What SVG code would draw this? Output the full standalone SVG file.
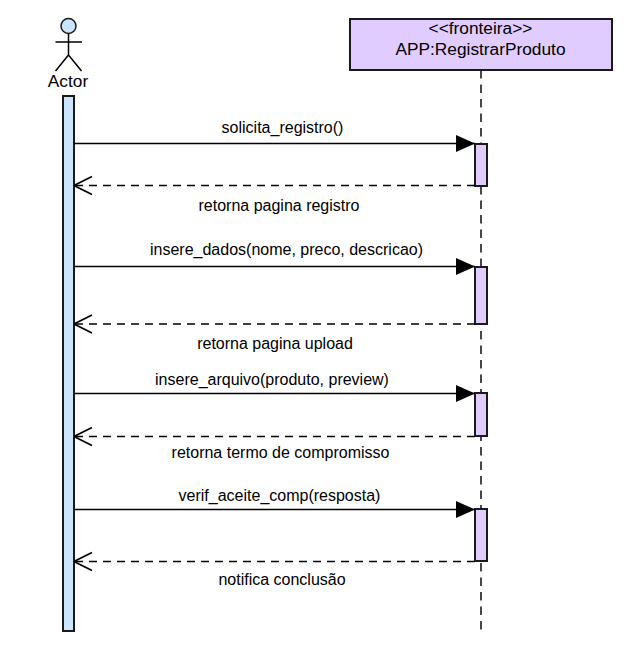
<svg xmlns="http://www.w3.org/2000/svg" width="638" height="672" viewBox="0 0 638 672">
<defs>
<marker id="solid" markerUnits="userSpaceOnUse" markerWidth="20" markerHeight="20" refX="19" refY="10" orient="auto"><path d="M0 1.500L19 10L0 18.500Z" fill="#000"/></marker>
<marker id="open" markerUnits="userSpaceOnUse" markerWidth="20" markerHeight="22" refX="19.500" refY="11" orient="auto"><path d="M1.500 2L19.500 11L1.500 20" fill="none" stroke="#000" stroke-width="1.600"/></marker>
</defs>
<style>
text{font-family:"Liberation Sans",Arial,sans-serif;font-size:16px;fill:#000;text-anchor:middle}
.n{font-size:17.300px}
.b{stroke:#1a1a1a;stroke-width:2}
.purple{fill:#e1ccff}
.blue{fill:#cce5ff}
.msg{stroke:#000;stroke-width:1.500;fill:none;marker-end:url(#solid)}
.ret{stroke:#000;stroke-width:1.500;fill:none;stroke-dasharray:8 6;marker-end:url(#open)}
.fig{fill:none;stroke:#000;stroke-width:1.500}
</style>
<g id="actor">
<circle cx="68.500" cy="26" r="7.500" class="blue" stroke="#1a1a1a" stroke-width="1.500"/>
<path class="fig" d="M68.500 34V55M55.500 42H82M68.500 55L55.500 71M68.500 55L81.500 71"/>
<text class="n" x="68" y="87">Actor</text>
<rect x="63" y="96" width="11" height="535" class="b blue"/>
</g>
<g id="boundary">
<line x1="481" y1="70" x2="481" y2="631" stroke="#333" stroke-width="1.800" stroke-dasharray="8.500 6"/>
<rect x="350" y="19" width="262" height="51" class="b purple"/>
<text class="n" x="480.500" y="34">&lt;&lt;fronteira&gt;&gt;</text>
<text class="n" x="480.500" y="55">APP:RegistrarProduto</text>
</g>
<g id="activation1"><rect x="475" y="144" width="12" height="42" class="b purple"/></g>
<g id="activation2"><rect x="475" y="267" width="12" height="57" class="b purple"/></g>
<g id="activation3"><rect x="475" y="393" width="12" height="43" class="b purple"/></g>
<g id="activation4"><rect x="475" y="509" width="12" height="52" class="b purple"/></g>
<g id="connectors">
<path class="msg" d="M74 143.500H475"/>
<path class="ret" d="M475 185.500H74"/>
<path class="msg" d="M74 266.500H475"/>
<path class="ret" d="M475 324H74"/>
<path class="msg" d="M74 393.500H475"/>
<path class="ret" d="M475 436.500H74"/>
<path class="msg" d="M74 509.500H475"/>
<path class="ret" d="M475 561.500H74"/>
</g>
<g id="labels">
<text x="282.500" y="133">solicita_registro()</text>
<text x="279" y="211">retorna pagina registro</text>
<text x="286.500" y="255">insere_dados(nome, preco, descricao)</text>
<text x="275" y="349">retorna pagina upload</text>
<text x="272" y="385">insere_arquivo(produto, preview)</text>
<text x="280.500" y="458">retorna termo de compromisso</text>
<text x="279.500" y="501">verif_aceite_comp(resposta)</text>
<text x="282" y="585">notifica conclusão</text>
</g>
</svg>
